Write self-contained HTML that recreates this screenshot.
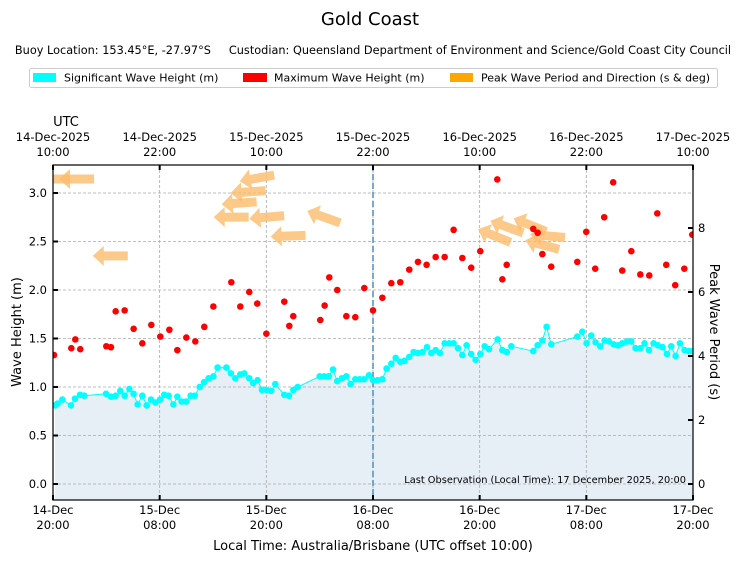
<!DOCTYPE html>
<html><head><meta charset="utf-8"><style>
body{margin:0;background:#fff;}
svg text{font-family:"DejaVu Sans","Liberation Sans",sans-serif;fill:#000;}
</style></head><body>
<svg id="chart" width="740" height="562" viewBox="0 0 740 562" xmlns="http://www.w3.org/2000/svg">
<defs><clipPath id="pc"><rect x="53" y="165" width="640" height="335"/></clipPath></defs>
<text x="370" y="25" font-size="18" text-anchor="middle">Gold Coast</text>
<text x="373" y="54" font-size="11.3" text-anchor="middle" xml:space="preserve">Buoy Location: 153.45°E, -27.97°S&#160;&#160;&#160;&#160;&#160;Custodian: Queensland Department of Environment and Science/Gold Coast City Council</text>
<g>
<rect x="29.5" y="68.5" width="688" height="19" rx="2" fill="#fff" stroke="#ccc"/>
<g><rect x="33" y="73" width="23" height="9" fill="#00ffff"/><text x="64" y="81.5" font-size="11">Significant Wave Height (m)</text></g>
<g><rect x="243" y="73" width="24" height="9" fill="#ff0000"/><text x="274" y="81.5" font-size="11">Maximum Wave Height (m)</text></g>
<g><rect x="450" y="73" width="23" height="9" fill="#ffa500"/><text x="481" y="81.5" font-size="11">Peak Wave Period and Direction (s &amp; deg)</text></g>
</g>
<g id="plot"></g>
</svg>
<script>
const hsHours=[0.23,0.52,1.05,2.02,2.47,3.04,3.52,5.96,6.52,7.05,7.57,8.06,8.59,9.07,9.52,10.05,10.54,11.02,11.51,12.04,12.52,13.01,13.54,13.99,14.47,14.96,15.49,15.94,16.5,16.99,17.51,18.04,18.52,19.5,20.02,20.51,21.07,21.52,22.08,22.53,23.02,23.51,24,24.56,25.01,26.02,26.55,27.03,27.52,30,30.52,31.01,31.5,31.98,32.51,33,33.48,34.01,34.5,34.98,35.55,36,36.52,37.05,37.53,38.06,38.55,39.07,39.55,40.08,40.57,41.06,41.58,42.07,42.56,43.05,43.53,44.06,44.58,45.07,45.56,46.05,46.53,47.05,47.54,48.07,48.56,49.05,50.02,50.55,51.04,51.56,54.03,54.52,55.05,55.53,56.05,58.98,59.54,60.03,60.55,61.04,61.57,62.05,62.54,63.07,63.55,64.04,64.57,65.06,65.54,66.07,66.55,67.04,67.57,68.05,68.58,69.07,69.55,70.04,70.53,71.06,71.58,72.03];
const hsValues=[0.81,0.83,0.87,0.81,0.88,0.92,0.91,0.93,0.9,0.91,0.96,0.91,0.98,0.93,0.82,0.91,0.81,0.87,0.84,0.87,0.92,0.91,0.82,0.9,0.85,0.85,0.91,0.91,1,1.05,1.09,1.11,1.2,1.2,1.14,1.09,1.13,1.14,1.09,1.04,1.07,0.97,0.97,0.96,1.03,0.92,0.91,0.97,1,1.11,1.11,1.11,1.18,1.06,1.09,1.11,1.03,1.08,1.08,1.08,1.12,1.07,1.07,1.08,1.19,1.24,1.3,1.26,1.27,1.31,1.36,1.35,1.36,1.41,1.35,1.38,1.35,1.45,1.45,1.45,1.4,1.33,1.43,1.34,1.28,1.34,1.42,1.39,1.49,1.38,1.36,1.42,1.37,1.43,1.48,1.62,1.44,1.52,1.57,1.45,1.53,1.46,1.42,1.48,1.47,1.44,1.43,1.45,1.47,1.47,1.4,1.4,1.45,1.38,1.45,1.43,1.41,1.34,1.42,1.32,1.45,1.38,1.37,1.37];
const hmaxHours=[0.11,2.06,2.51,3.07,6,6.52,7.05,8.06,9.07,10.05,11.06,12.07,13.09,13.99,15,16.01,17.02,18.04,20.06,21.07,22.08,22.98,24,26.02,26.58,27.03,30.07,30.56,31.08,31.98,33,34.01,35.02,36,37.05,38.06,39.07,40.08,41.06,42.03,43.05,44.06,45.07,46.05,47.05,48.07,49.98,50.55,51.04,54.03,54.52,55.05,56.05,58.98,59.99,61,62.01,63.02,64.04,65.06,66.07,67.08,67.98,68.99,70,71.02,71.92];
const hmaxValues=[1.33,1.4,1.49,1.39,1.42,1.41,1.78,1.79,1.6,1.45,1.64,1.52,1.59,1.38,1.51,1.47,1.62,1.83,2.08,1.83,1.98,1.86,1.55,1.88,1.63,1.73,1.69,1.84,2.13,2,1.73,1.72,2.02,1.79,1.92,2.07,2.08,2.21,2.29,2.26,2.34,2.34,2.62,2.33,2.23,2.4,3.14,2.11,2.26,2.63,2.59,2.37,2.24,2.29,2.6,2.22,2.75,3.11,2.2,2.4,2.16,2.15,2.79,2.26,2.05,2.22,2.57];
const peakHours=[0,2.7,6.5,20.1,21,22,23,24.1,26.5,30.5,49.7,51.1,53.7,55.1,55.7];
const peakPeriods=[9.53,9.53,7.13,8.34,8.78,9.13,9.56,8.34,7.75,8.34,7.75,8.03,8.09,7.47,7.75];
const peakDirections=[90,90,90,90,86,86,80,85,88,110,112,110,112,105,95];
const leftTicks=[0,0.5,1,1.5,2,2.5,3];
const rightTicks=[0,2,4,6,8];
const tickHours=[0,12,24,36,48,60,72];
const bottomLabels=[["14-Dec","20:00"],["15-Dec","08:00"],["15-Dec","20:00"],["16-Dec","08:00"],["16-Dec","20:00"],["17-Dec","08:00"],["17-Dec","20:00"]];
const topLabels=[["14-Dec-2025","10:00"],["14-Dec-2025","22:00"],["15-Dec-2025","10:00"],["15-Dec-2025","22:00"],["16-Dec-2025","10:00"],["16-Dec-2025","22:00"],["17-Dec-2025","10:00"]];
const lastObsHour=36;

const L=53,R=693,T=165,B=500;
const xS=h=>L+h*(R-L)/72;
const yS=v=>484-v*97;
const yP=p=>484-p*32;
const NS="http://www.w3.org/2000/svg";
const root=document.getElementById('plot');
const g=document.createElementNS(NS,'g');g.setAttribute('clip-path','url(#pc)');root.appendChild(g);
function mk(tag,attrs,parent){const e=document.createElementNS(NS,tag);for(const k in attrs)e.setAttribute(k,attrs[k]);(parent||g).appendChild(e);return e;}

let d=`M${xS(hsHours[0])},${B}`;hsHours.forEach((h,i)=>d+=`L${xS(h)},${yS(hsValues[i])}`);d+=`L${xS(hsHours[hsHours.length-1])},${B}Z`;
let fill=mk('path',{d:d,fill:'#e6eef6'});


tickHours.forEach(h=>{let l=mk('line',{x1:xS(h),x2:xS(h),y1:T,y2:B,stroke:'#aaa','stroke-dasharray':'3,2','stroke-width':0.8});

});
leftTicks.forEach(v=>{let l=mk('line',{x1:L,x2:R,y1:yS(v),y2:yS(v),stroke:'#aaa','stroke-dasharray':'3,2','stroke-width':0.8});

});
let lo=mk('line',{x1:xS(lastObsHour),x2:xS(lastObsHour),y1:T,y2:B,stroke:'#4f8fbf','stroke-dasharray':'6,3','stroke-width':1.5});


peakHours.forEach((h,i)=>{const cx=xS(h),cy=yP(peakPeriods[i]);const ang=peakDirections[i]-90;
let a=mk('path',{d:'M-18,0 L-7,-10 L-7,-4.5 L17,-4.5 L17,4.5 L-7,4.5 L-7,10 Z',fill:'#fdbb6a','fill-opacity':0.8,transform:`translate(${cx},${cy}) rotate(${ang})`});

});
let pl=mk('polyline',{points:hsHours.map((h,i)=>xS(h)+','+yS(hsValues[i])).join(' '),fill:'none',stroke:'#00ffff','stroke-width':1});


hsHours.forEach((h,i)=>{let c=mk('circle',{cx:xS(h),cy:yS(hsValues[i]),r:3.3,fill:'#00ffff'});

});
hmaxHours.forEach((h,i)=>{let c=mk('circle',{cx:xS(h),cy:yS(hmaxValues[i]),r:3.3,fill:'#ff0000'});

});
let fr=mk('rect',{x:L,y:T,width:R-L,height:B-T,fill:'none',stroke:'#000','stroke-width':1.2},root);


tickHours.forEach((h,i)=>{const x=xS(h);
mk('line',{x1:x,x2:x,y1:B,y2:B-5,stroke:'#000','stroke-width':2},root);
mk('line',{x1:x,x2:x,y1:T,y2:T+5,stroke:'#000','stroke-width':2},root);
let t=mk('text',{x:x,y:514,'font-size':11.5,'text-anchor':'middle'},root);t.textContent=bottomLabels[i][0];


let t2=mk('text',{x:x,y:529,'font-size':11.5,'text-anchor':'middle'},root);t2.textContent=bottomLabels[i][1];


let u=mk('text',{x:x,y:141,'font-size':11.5,'text-anchor':'middle'},root);u.textContent=topLabels[i][0];


let u2=mk('text',{x:x,y:156,'font-size':11.5,'text-anchor':'middle'},root);u2.textContent=topLabels[i][1];

});
leftTicks.forEach(v=>{const y=yS(v);mk('line',{x1:L,x2:L+5,y1:y,y2:y,stroke:'#000','stroke-width':2},root);
let t=mk('text',{x:47,y:y+4,'font-size':11.5,'text-anchor':'end'},root);t.textContent=v.toFixed(1);

});
rightTicks.forEach(v=>{const y=yP(v);mk('line',{x1:R,x2:R-5,y1:y,y2:y,stroke:'#000','stroke-width':2},root);
let t=mk('text',{x:698,y:y+4,'font-size':11.5},root);t.textContent=v;

});
let ut=mk('text',{x:66,y:126,'font-size':13,'text-anchor':'middle'},root);ut.textContent='UTC';


let xl=mk('text',{x:373,y:550,'font-size':13,'text-anchor':'middle'},root);xl.textContent='Local Time: Australia/Brisbane (UTC offset 10:00)';


let yl=mk('text',{x:0,y:0,'font-size':13,'text-anchor':'middle',transform:'translate(21,332) rotate(-90)'},root);yl.textContent='Wave Height (m)';


let yr=mk('text',{x:0,y:0,'font-size':13,'text-anchor':'middle',transform:'translate(710,332) rotate(90)'},root);yr.textContent='Peak Wave Period (s)';


let lt=mk('text',{x:686,y:483,'font-size':9.8,'text-anchor':'end'},root);lt.textContent='Last Observation (Local Time): 17 December 2025, 20:00';


</script>
</body></html>
